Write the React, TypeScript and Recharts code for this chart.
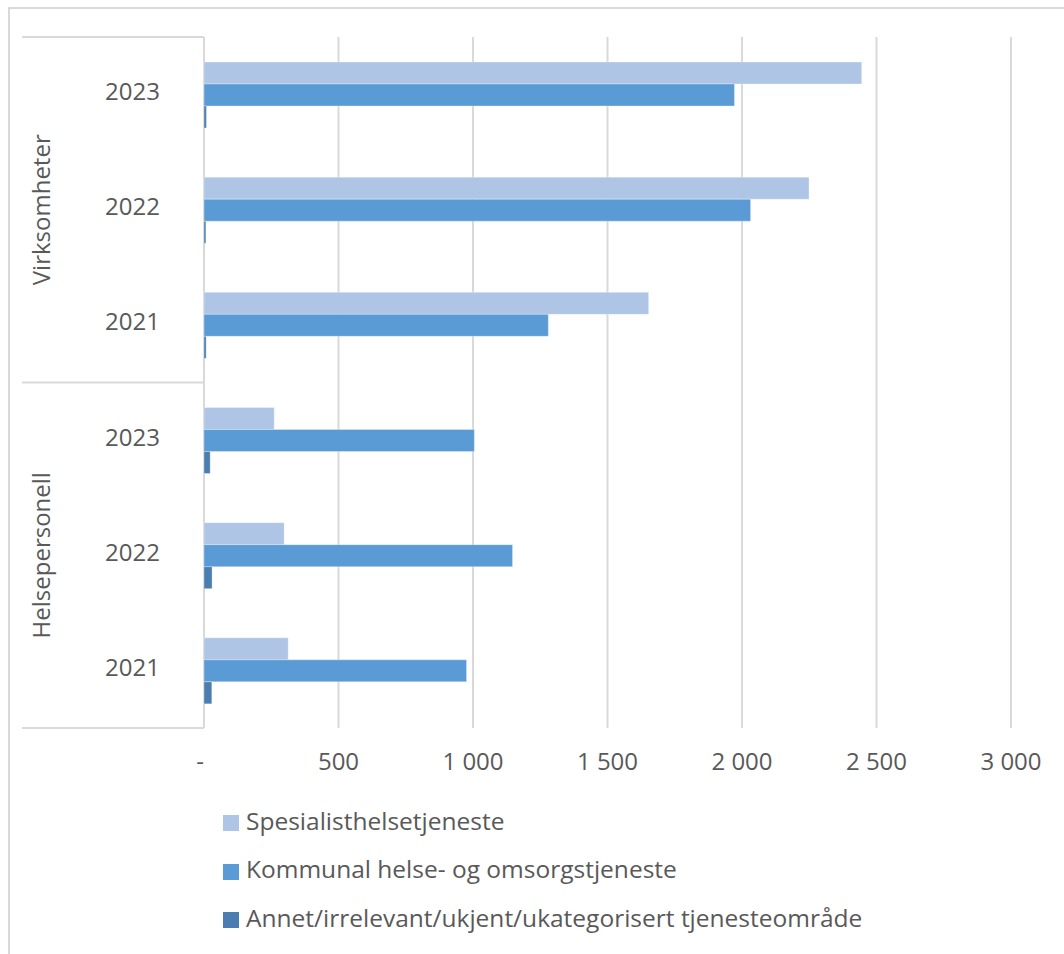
import React from 'react';
import { BarChart, Bar, XAxis, YAxis, CartesianGrid, Legend } from 'recharts';

// categories: two groups, three years each (top to bottom)
const groups = ['Virksomheter', 'Virksomheter', 'Virksomheter', 'Helsepersonell', 'Helsepersonell', 'Helsepersonell'];
const years = ['2023', '2022', '2021', '2023', '2022', '2021'];

// series values
const spesialist = [2445, 2249, 1653, 261, 298, 313];
const kommunal = [1972, 2032, 1280, 1005, 1147, 976];
const annet = [9, 7, 8, 23, 30, 29];

const xTicks = [0, 500, 1000, 1500, 2000, 2500, 3000];

const SERIES = [
  { key: 'spesialist', name: 'Spesialisthelsetjeneste', color: '#AEC5E5' },
  { key: 'kommunal', name: 'Kommunal helse- og omsorgstjeneste', color: '#5B9BD5' },
  { key: 'annet', name: 'Annet/irrelevant/ukjent/ukategorisert tjenesteområde', color: '#4A7EB1' },
];

const data = years.map((year, i) => ({
  group: groups[i],
  year,
  spesialist: spesialist[i],
  kommunal: kommunal[i],
  annet: annet[i],
}));

const W = 1064;
const H = 954;
const X_AXIS_H = 30;
const MARGIN = { top: 37, right: 53, bottom: 196, left: 22 };
const PLOT_H = H - MARGIN.top - MARGIN.bottom - X_AXIS_H;
const BAND = PLOT_H / years.length;
const FONT = '"Open Sans", sans-serif';
const TEXT = '#595959';
const GRID = '#D9D9D9';

const fmt = (v: number) => (v === 0 ? '-' : v.toLocaleString('en-US').replace(/,/g, ' '));

function YearTick(props: any) {
  const { x, y, payload, index } = props;
  const left = MARGIN.left;
  const right = x + 8;
  return (
    <g>
      <text x={x - 36} y={y} dy="0.23em" textAnchor="end" fill={TEXT} fontSize={24} fontFamily={FONT}>
        {payload.value}
      </text>
      {(index === 1 || index === 4) && (
        <text
          x={42}
          y={y}
          dy="0.35em"
          textAnchor="middle"
          fill={TEXT}
          fontSize={24}
          fontFamily={FONT}
          transform={`rotate(-90, 42, ${y})`}
        >
          {groups[index]}
        </text>
      )}
      {(index === 0 || index === 3) && (
        <line x1={left} x2={right} y1={y - BAND / 2} y2={y - BAND / 2} stroke={GRID} strokeWidth={2} />
      )}
      {index === 5 && (
        <line x1={left} x2={right} y1={y + BAND / 2} y2={y + BAND / 2} stroke={GRID} strokeWidth={2} />
      )}
    </g>
  );
}

function ValueTick(props: any) {
  const { x, y, payload } = props;
  const shift = payload.value === 0 ? -4 : 0;
  return (
    <text x={x + shift} y={y + 26} dy="0.35em" textAnchor="middle" fill={TEXT} fontSize={24} fontFamily={FONT}>
      {fmt(payload.value)}
    </text>
  );
}

function LegendBox() {
  return (
    <div style={{ fontFamily: FONT, fontSize: 24.5, color: TEXT }}>
      {SERIES.map((s) => (
        <div key={s.key} style={{ display: 'flex', alignItems: 'center', height: 48.5 }}>
          <span style={{ display: 'inline-block', width: 16, height: 16, background: s.color, marginRight: 7, marginTop: 6 }} />
          <span style={{ whiteSpace: 'nowrap' }}>{s.name}</span>
        </div>
      ))}
    </div>
  );
}

export default function App() {
  return (
    <div style={{ position: 'fixed', left: 0, top: 0, width: W, height: H, background: '#fff', overflow: 'hidden' }}>
      <div
        style={{
          position: 'absolute',
          left: 8,
          top: 7,
          width: 1200,
          height: 1200,
          borderTop: `2px solid ${GRID}`,
          borderLeft: `2px solid ${GRID}`,
        }}
      />
      <div style={{ position: 'absolute', left: 0, top: 0 }}>
        <BarChart width={W} height={H} data={data} layout="vertical" margin={MARGIN} barCategoryGap={25} barGap={0}>
          <CartesianGrid horizontal={false} stroke={GRID} strokeWidth={2} />
          <XAxis
            type="number"
            domain={[0, 3000]}
            ticks={xTicks}
            height={X_AXIS_H}
            axisLine={false}
            tickLine={false}
            tick={<ValueTick />}
            interval={0}
          />
          <YAxis
            yAxisId="year"
            type="category"
            dataKey="year"
            width={182}
            axisLine={false}
            tickLine={false}
            tick={<YearTick />}
            interval={0}
          />
          <Legend
            layout="vertical"
            align="center"
            verticalAlign="middle"
            content={<LegendBox />}
            wrapperStyle={{ left: 223, top: 796, width: 720, bottom: 'auto' }}
          />
          {SERIES.map((s) => (
            <Bar
              key={s.key}
              yAxisId="year"
              dataKey={s.key}
              name={s.name}
              fill={s.color}
              stroke="#ffffff"
              strokeOpacity={0.3}
              strokeWidth={1}
              isAnimationActive={false}
            />
          ))}
        </BarChart>
      </div>
    </div>
  );
}
